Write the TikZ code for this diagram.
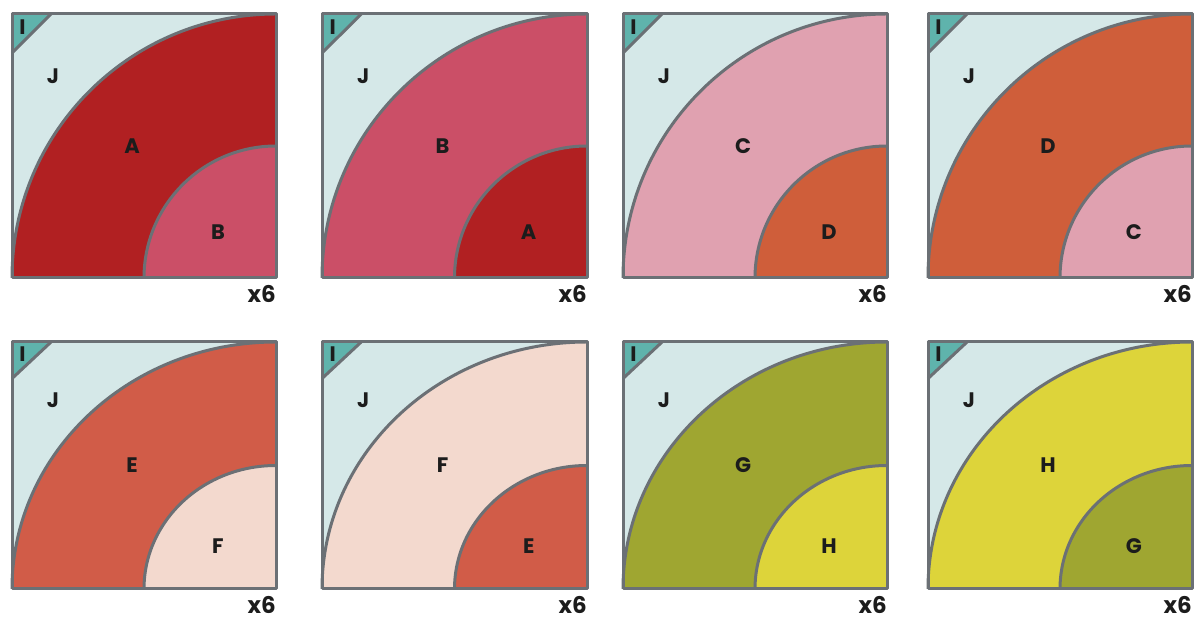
\documentclass[tikz,border=0pt]{standalone}
\usepackage{fontspec}
\setmainfont{Poppins}
\definecolor{cJ}{HTML}{D5E8E8}
\definecolor{cI}{HTML}{5FB3AC}
\definecolor{cA}{HTML}{B12022}
\definecolor{cB}{HTML}{CB4F67}
\definecolor{cC}{HTML}{E0A1B0}
\definecolor{cD}{HTML}{CF5E3A}
\definecolor{cE}{HTML}{D15C48}
\definecolor{cF}{HTML}{F3D9CE}
\definecolor{cG}{HTML}{9FA631}
\definecolor{cH}{HTML}{DDD43A}
\definecolor{cEdge}{HTML}{6B7075}
\definecolor{cText}{HTML}{1C1C1C}
\tikzset{
  edge/.style={draw=cEdge, line width=3pt, line join=round},
  lab/.style={text=cText, font=\bfseries\fontsize{21}{21}\selectfont, inner sep=0pt},
  cnt/.style={text=cText, font=\bfseries\fontsize{23}{23}\selectfont, inner sep=0pt, anchor=base east}
}
\newcommand\quilttile[9]{%
\begin{scope}[shift={(#1,#2)}, xscale=#3, yscale=#4]
  \fill[cJ] (0,0) rectangle (1,1);
  \fill[#5] (1,0) -- (0,0) arc[start angle=180, end angle=90, radius=1] -- cycle;
  \fill[#6] (1,0) -- (0.5,0) arc[start angle=180, end angle=90, radius=0.5] -- cycle;
  \fill[cI] (0,1) -- (0.148,1) -- (0,0.852) -- cycle;
  \draw[edge] (0,0) arc[start angle=180, end angle=90, radius=1];
  \draw[edge] (0.5,0) arc[start angle=180, end angle=90, radius=0.5];
  \draw[edge] (0.148,1) -- (0,0.852);
  \draw[edge] (0,0) rectangle (1,1);
  \node[lab] (#9I) at (0.04,0.952) {I};
  \node[lab] (#9J) at (0.155,0.765) {J};
  \node[lab] (#9O) at (0.455,0.5) {#7};
  \node[lab] (#9N) at (0.78,0.172) {#8};
  \node[cnt] (#9X) at (1.0,{-25/#4}) {x6};
\end{scope}}
\begin{document}
\begin{tikzpicture}[x=1pt,y=1pt]
\useasboundingbox (0,0) rectangle (1195,620);
\quilttile{12}{342}{264}{264}{cA}{cB}{A}{B}{ta}
\quilttile{322}{342}{265}{264}{cB}{cA}{B}{A}{tb}
\quilttile{623}{342}{264}{264}{cC}{cD}{C}{D}{tc}
\quilttile{928}{342}{264}{264}{cD}{cC}{D}{C}{td}
\quilttile{12}{31}{264}{247}{cE}{cF}{E}{F}{te}
\quilttile{322}{31}{265}{247}{cF}{cE}{F}{E}{tf}
\quilttile{623}{31}{264}{247}{cG}{cH}{G}{H}{tg}
\quilttile{928}{31}{264}{247}{cH}{cG}{H}{G}{th}
\end{tikzpicture}
\end{document}
